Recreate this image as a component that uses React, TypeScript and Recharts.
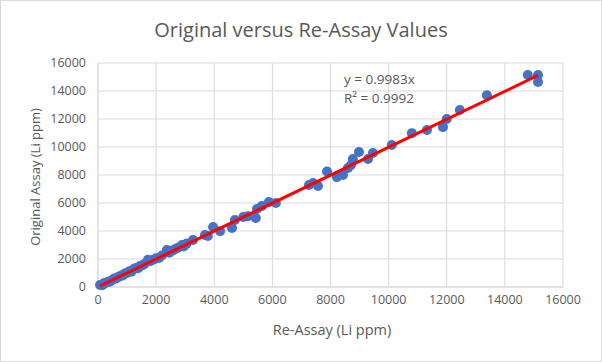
import React from "react";
import { CartesianGrid, Scatter, ScatterChart, XAxis, YAxis } from "recharts";

// Re-assay (x) vs original assay (y), Li ppm
const reAssay = [
  70, 150, 200, 280, 350, 420, 500, 560, 640, 700, 780, 850, 920, 1000, 1080, 1150, 1230, 1300, 1380, 1450,
  1530, 1600, 1720, 1800, 1900, 2000, 2100, 2200, 2370, 2450, 2550, 2650, 2750, 2890, 2950, 3050, 3270,
  3680, 3780, 3960, 4200, 4610, 4710, 5000, 5160, 5430, 5470, 5640, 5880, 6120,
  7260, 7400, 7570, 7880, 8220, 8430, 8600, 8700, 8770, 8980, 9290, 9460, 10110, 10800, 11320, 11870, 12000,
  12450, 13380, 14790, 15140, 15140,
];
const original = [
  140, 120, 260, 300, 380, 400, 520, 600, 620, 720, 800, 830, 960, 1000, 1120, 1100, 1280, 1350, 1340, 1500,
  1560, 1640, 1950, 1850, 1950, 2050, 2080, 2250, 2640, 2450, 2600, 2700, 2800, 3000, 2900, 3100, 3360,
  3720, 3640, 4280, 3980, 4210, 4780, 5000, 5050, 4930, 5570, 5780, 6070, 6000,
  7280, 7430, 7210, 8250, 7850, 8000, 8500, 8700, 9140, 9640, 9140, 9570, 10140, 10990, 11210, 11420, 12000,
  12640, 13700, 15140, 15140, 14640,
];
const slope = 0.9983;
const rSquared = 0.9992;
const ticks = [0, 2000, 4000, 6000, 8000, 10000, 12000, 14000, 16000];

const points = reAssay.map((x, i) => ({ x, y: original[i] }));
const minX = Math.min(...reAssay);
const maxX = Math.max(...reAssay);
const trend = [
  { x: minX, y: slope * minX },
  { x: maxX, y: slope * maxX },
];

const font = "'Open Sans', sans-serif";
const grey = "#595959";

export default function App() {
  return (
    <div
      style={{
        position: "fixed",
        top: 0,
        left: 0,
        width: 602,
        height: 362,
        boxSizing: "border-box",
        border: "1px solid #d9d9d9",
        background: "#fff",
        fontFamily: font,
        color: grey,
      }}
    >
      <div style={{ position: "absolute", top: 15, left: 0, width: 600, textAlign: "center", fontSize: 20 }}>
        Original versus Re-Assay Values
      </div>
      <ScatterChart width={600} height={360} margin={{ top: 62, right: 38, bottom: 0, left: 0 }}>
        <CartesianGrid stroke="#d9d9d9" />
        <XAxis
          type="number"
          dataKey="x"
          domain={[0, 16000]}
          ticks={ticks}
          height={74}
          tickSize={0}
          tickMargin={8}
          axisLine={{ stroke: "#d9d9d9" }}
          tick={{ fill: grey, fontSize: 12.5, fontFamily: font }}
        />
        <YAxis
          type="number"
          dataKey="y"
          domain={[0, 16000]}
          ticks={ticks}
          width={97}
          tickSize={0}
          tickMargin={12}
          axisLine={{ stroke: "#d9d9d9" }}
          tick={{ fill: grey, fontSize: 12.5, fontFamily: font }}
        />
        <Scatter
          data={points}
          isAnimationActive={false}
          shape={(p: any) => <circle cx={p.cx} cy={p.cy} r={5} fill="#4472C4" />}
        />
        <Scatter
          data={trend}
          isAnimationActive={false}
          line={{ stroke: "#FF0000", strokeWidth: 3 }}
          shape={() => <g />}
        />
      </ScatterChart>
      <div style={{ position: "absolute", top: 69, left: 343, fontSize: 13.5, lineHeight: "19px" }}>
        y = {slope}x
        <br />
        R² = {rSquared}
      </div>
      <div
        style={{
          position: "absolute",
          top: 319,
          left: 0,
          width: 600,
          paddingLeft: 62,
          boxSizing: "border-box",
          textAlign: "center",
          fontSize: 14.5,
        }}
      >
        Re-Assay (Li ppm)
      </div>
      <div
        style={{
          position: "absolute",
          left: 34,
          top: 176,
          fontSize: 13,
          whiteSpace: "nowrap",
          transform: "translate(-50%, -50%) rotate(-90deg)",
        }}
      >
        Original Assay (Li ppm)
      </div>
    </div>
  );
}
